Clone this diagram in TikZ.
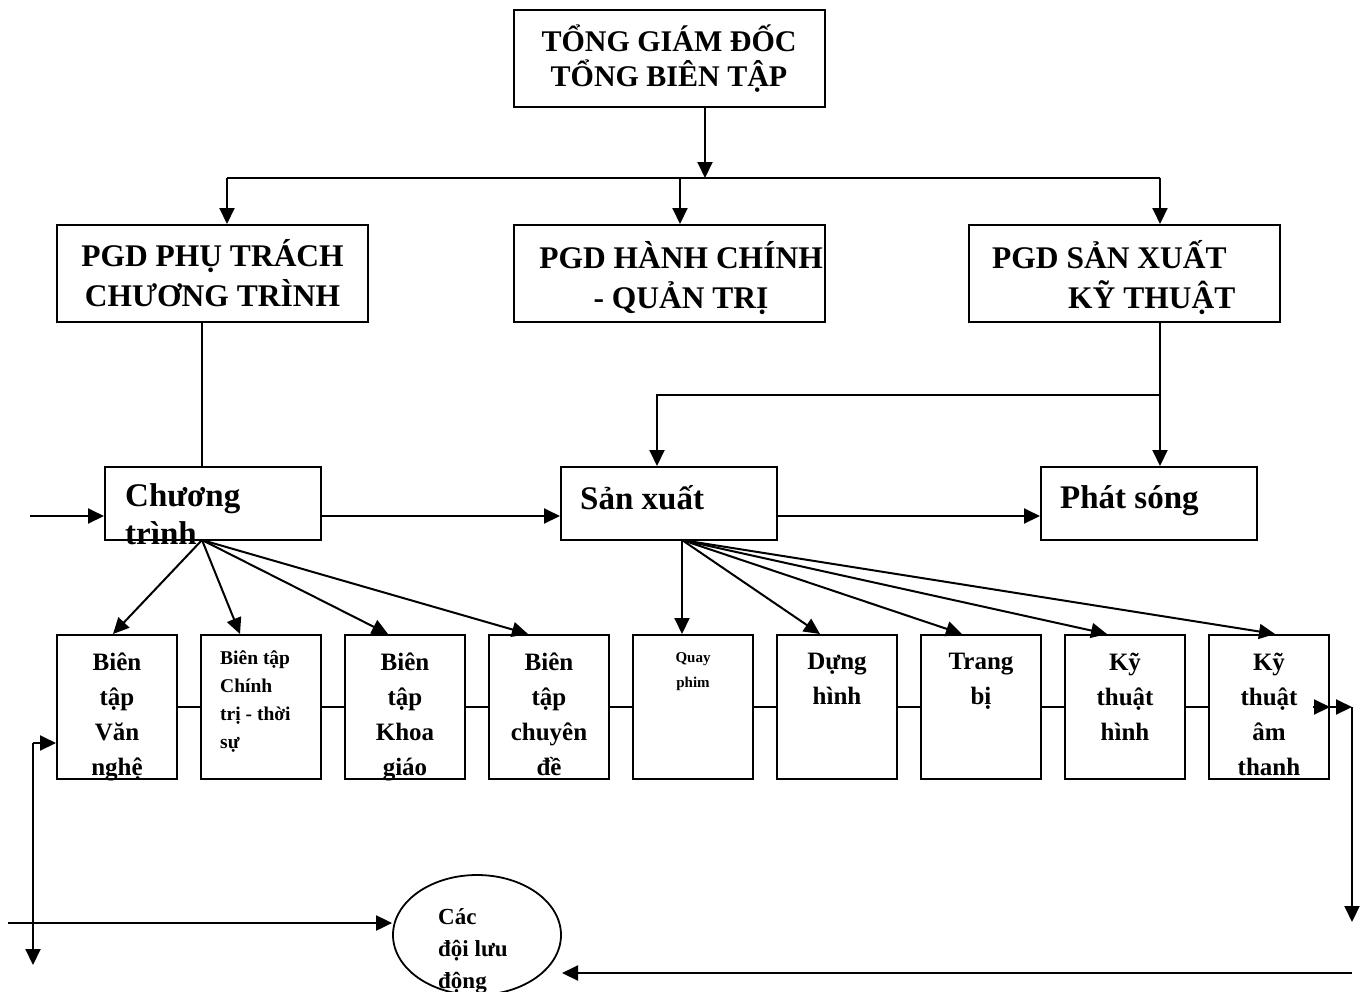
\documentclass[tikz,border=0pt]{standalone}
\usepackage{fontspec}
\setmainfont{Liberation Serif}
\usetikzlibrary{arrows.meta,shapes.geometric,calc}
\begin{document}
\begin{tikzpicture}[x=1pt,y=-1pt,
  box/.style={draw, line width=2pt, inner sep=0pt, rectangle},
  bigbox/.style={box, minimum width=311pt, minimum height=97pt},
  midbox/.style={box, minimum width=216pt, minimum height=73pt},
  smallbox/.style={box, minimum width=120pt, minimum height=144pt},
  arr/.style={line width=2pt, -{Triangle[length=16pt,width=15pt]}},
  ln/.style={line width=2pt},
  txt/.style={inner sep=0pt, font=\bfseries},
  fA/.style={font=\bfseries\fontsize{30}{35}\selectfont},
  fB/.style={font=\bfseries\fontsize{31.5}{40}\selectfont},
  fC/.style={font=\bfseries\fontsize{33}{38}\selectfont},
  fD/.style={font=\bfseries\fontsize{25}{35}\selectfont},
  fE/.style={font=\bfseries\fontsize{19.5}{28}\selectfont},
  fF/.style={font=\bfseries\fontsize{15}{25}\selectfont},
  fG/.style={font=\bfseries\fontsize{23}{32}\selectfont},
]
\useasboundingbox (0,0) rectangle (1370,991);

% top boxes
\node[bigbox, fA, align=center] (tgd) at (669,58.5) {TỔNG GIÁM ĐỐC\\TỔNG BIÊN TẬP};
\node[bigbox, fB, align=center] (pgd1) at (212.5,273.5) {PGD PHỤ TRÁCH\\CHƯƠNG TRÌNH};
\node[bigbox] (pgd2) at (669,273.5) {};
\node[txt, fB, align=center] (pgd2t) at (681,278) {PGD HÀNH CHÍNH\\- QUẢN TRỊ};
\node[bigbox] (pgd3) at (1124,273.5) {};
\node[txt, fB, align=left, anchor=west] (pgd3t) at (992,278) {PGD SẢN XUẤT\\\hspace*{76pt}KỸ THUẬT};

% middle boxes
\node[midbox] (ct) at (213,503.5) {};
\node[txt, fC, align=left, anchor=north west] (ctt) at (125,483) {Chương\\trình};
\node[midbox] (sx) at (669,503.5) {};
\node[txt, fC, anchor=base west] (sxt) at (580,509) {Sản xuất};
\node[midbox] (ps) at (1149,503.5) {};
\node[txt, fC, anchor=base west] (pst) at (1060,508) {Phát sóng};

% bottom boxes
\node[smallbox] (b1) at (117,707) {};
\node[smallbox] (b2) at (261,707) {};
\node[smallbox] (b3) at (405,707) {};
\node[smallbox] (b4) at (549,707) {};
\node[smallbox] (b5) at (693,707) {};
\node[smallbox] (b6) at (837,707) {};
\node[smallbox] (b7) at (981,707) {};
\node[smallbox] (b8) at (1125,707) {};
\node[smallbox] (b9) at (1269,707) {};
\node[txt, fD, align=center, anchor=north] at (117,653) {Biên\\tập\\Văn\\nghệ};
\node[txt, fE, align=left, anchor=north west] at (220,651) {Biên tập\\Chính\\trị - thời\\sự};
\node[txt, fD, align=center, anchor=north] at (405,653) {Biên\\tập\\Khoa\\giáo};
\node[txt, fD, align=center, anchor=north] at (549,653) {Biên\\tập\\chuyên\\đề};
\node[txt, fF, align=center, anchor=north] at (693,652) {Quay\\phim};
\node[txt, fD, align=center, anchor=north] at (837,653) {Dựng\\hình};
\node[txt, fD, align=center, anchor=north] at (981,653) {Trang\\bị};
\node[txt, fD, align=center, anchor=north] at (1125,653) {Kỹ\\thuật\\hình};
\node[txt, fD, align=center, anchor=north] at (1269,653) {Kỹ\\thuật\\âm\\thanh};

% ellipse
\node[draw, ellipse, line width=1.8pt, minimum width=168pt, minimum height=120pt, inner sep=0pt] (doi) at (477,935) {};
\node[txt, fG, align=left, anchor=north west] at (438,908) {Các\\đội lưu\\động};

% top connectors
\coordinate (bus) at (705,178);
\coordinate (busL) at (227,178);
\coordinate (busM) at (680,178);
\coordinate (busR) at (1160,178);
\draw[arr] (tgd.south -| bus) -- (bus);
\draw[ln] (busL) -- (busR);
\draw[arr] (busL) -- (busL |- pgd1.north);
\draw[arr] (busM) -- (busM |- pgd2.north);
\draw[arr] (busR) -- (busR |- pgd3.north);

% to middle row
\coordinate (f1) at (202,540);
\coordinate (f2) at (682,540);
\draw[ln] (pgd1.south -| f1) -- (ct.north -| f1);
\coordinate (j) at (1160,395);
\coordinate (j2) at (657,395);
\draw[ln] (pgd3.south -| j) -- (j);
\draw[arr] (j) -- (j |- ps.north);
\draw[arr] (j) -- (j2) -- (j2 |- sx.north);

\coordinate (in) at (30,516);
\draw[arr] (in) -- (in -| ct.west);
\draw[arr] (in -| ct.east) -- (in -| sx.west);
\draw[arr] (in -| sx.east) -- (in -| ps.west);

% fans
\draw[arr] (f1) -- ([xshift=-4pt]b1.north);
\draw[arr] (f1) -- ([xshift=-21pt]b2.north);
\draw[arr] (f1) -- ([xshift=-17pt]b3.north);
\draw[arr] (f1) -- ([xshift=-21pt]b4.north);
\draw[arr] (f2) -- ([xshift=-11pt]b5.north);
\draw[arr] (f2) -- ([xshift=-17pt]b6.north);
\draw[arr] (f2) -- ([xshift=-19pt]b7.north);
\draw[arr] (f2) -- ([xshift=-18pt]b8.north);
\draw[arr] (f2) -- ([xshift=6pt]b9.north);

% bottom chain
\draw[ln] (b1.east) -- (b2.west);
\draw[ln] (b2.east) -- (b3.west);
\draw[ln] (b3.east) -- (b4.west);
\draw[ln] (b4.east) -- (b5.west);
\draw[ln] (b5.east) -- (b6.west);
\draw[ln] (b6.east) -- (b7.west);
\draw[ln] (b7.east) -- (b8.west);
\draw[ln] (b8.east) -- (b9.west);

% right side
\coordinate (r1) at (1352,707);
\coordinate (r2) at (1352,922);
\coordinate (r3) at (1352,973);
\coordinate (e1) at (562,973);
\draw[arr] ([xshift=-17pt]b9.east) -- (b9.east);
\draw[arr] (b9.east) -- (r1);
\draw[arr] (r1) -- (r2);
\draw[arr] (r3) -- (e1);

% left side
\coordinate (l0) at (8,923);
\coordinate (lv) at (33,743);
\coordinate (lv2) at (33,965);
\draw[arr] (l0) -- (l0 -| doi.west);
\draw[arr] (lv) -- (lv -| b1.west);
\draw[arr] (lv) -- (lv2);
\end{tikzpicture}
\end{document}
